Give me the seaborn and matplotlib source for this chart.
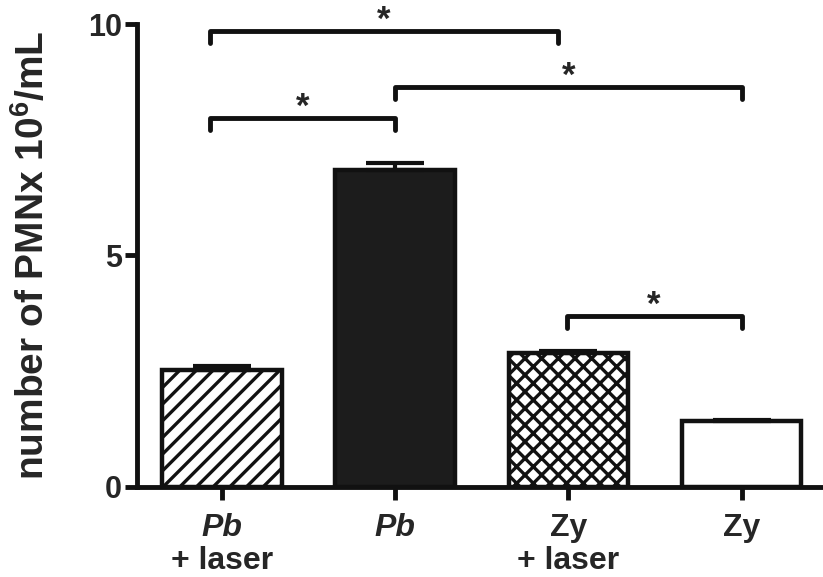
import matplotlib
matplotlib.use('Agg')
import matplotlib.pyplot as plt
import pandas as pd
import seaborn as sns

grupos = ['Pb + laser', 'Pb', 'Zy + laser', 'Zy']
linha1 = ['Pb', 'Pb', 'Zy', 'Zy']
linha2 = ['+ laser', '', '+ laser', '']
italico = [True, True, False, False]
pmn = [2.53, 6.85, 2.89, 1.43]
erro = [0.08, 0.15, 0.04, 0.02]
hachuras = ['//', '', 'xx', '']
cores = ['white', '#1c1c1c', 'white', 'white']

# comparacoes significativas: (x1, x2, altura da barra horizontal)
comparacoes = [(-0.07, 1.94, 9.85), (-0.07, 1.0, 7.97), (1.0, 3.0, 8.64), (1.99, 3.0, 3.70)]

sns.set_style('ticks')
plt.rcParams['font.family'] = ['Liberation Sans', 'DejaVu Sans']
plt.rcParams['font.weight'] = 'bold'
plt.rcParams['mathtext.default'] = 'regular'
plt.rcParams['hatch.linewidth'] = 2.4
plt.rcParams['hatch.color'] = '#111111'

df = pd.DataFrame({'grupo': grupos, 'pmn': pmn})

fig = plt.figure(figsize=(8.23, 5.77), dpi=100)
ax = fig.add_axes([0.1665, 0.156, 0.8335, 0.8024])

sns.barplot(data=df, x='grupo', y='pmn', ax=ax, width=0.69,
            color='white', edgecolor='#111111', linewidth=3.2, errorbar=None)

for barra, h, c in zip(ax.patches, hachuras, cores):
  barra.set_facecolor(c)
  barra.set_hatch(h)
  barra.set_edgecolor('#111111')

ax.errorbar(range(len(pmn)), pmn, yerr=[[0] * len(erro), erro], fmt='none',
            ecolor='#111111', elinewidth=3, capsize=21, capthick=3, zorder=3)

ax.set_xlim(-0.49, 3.47)
ax.set_ylim(0, 10)
ax.set_yticks([0, 5, 10])
ax.set_yticklabels(['0', '5', '10'], fontsize=22, fontweight='bold')
ax.set_xticks(range(len(grupos)))
ax.set_xticklabels([])
ax.set_xlabel('')
ax.set_ylabel('number of PMNx 10$^{6}$/mL', fontsize=28, fontweight='bold')
ax.yaxis.set_label_coords(-0.124, 0.5)

sns.despine(ax=ax)
for lado in ['left', 'bottom']:
  ax.spines[lado].set_linewidth(3.5)
  ax.spines[lado].set_color('#111111')
ax.tick_params(axis='both', width=3.5, length=9, color='#111111', pad=2)

tr = ax.get_xaxis_transform()
for i in range(len(grupos)):
  ax.text(i, -0.088, linha1[i], transform=tr, ha='center', va='center',
          fontsize=23, fontweight='bold', style='italic' if italico[i] else 'normal')
  if linha2[i]:
    ax.text(i, -0.16, linha2[i], transform=tr, ha='center', va='center',
            fontsize=23, fontweight='bold')

for x1, x2, y in comparacoes:
  ax.plot([x1, x1, x2, x2], [y - 0.26, y, y, y - 0.26], color='#111111',
          lw=3.5, solid_capstyle='round', solid_joinstyle='round', clip_on=False)
  ax.text((x1 + x2) / 2, y + 0.02, '*', ha='center', va='baseline',
          fontsize=25, fontweight='bold', clip_on=False)

fig.savefig('out.png', dpi=100)
